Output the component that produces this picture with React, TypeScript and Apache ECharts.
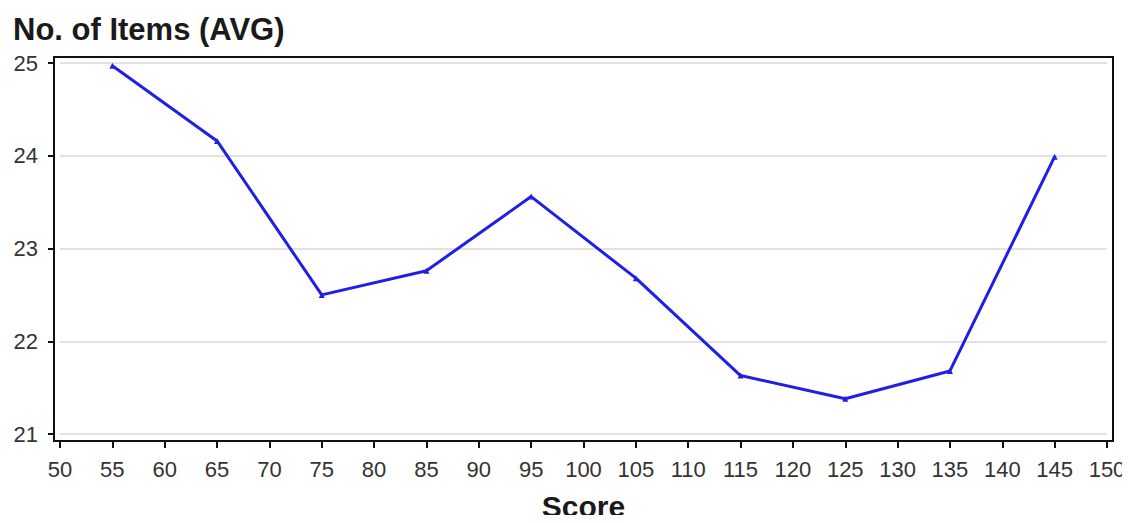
import React, { useEffect, useRef } from "react";
import * as echarts from "echarts";

const scores = [55, 65, 75, 85, 95, 105, 115, 125, 135, 145];
const avgItems = [24.97, 24.16, 22.5, 22.76, 23.56, 22.68, 21.63, 21.38, 21.68, 23.99];
const xTicks = [50, 150];
const yTicks = [21, 25];

export default function App() {
  const ref = useRef<HTMLDivElement>(null);
  useEffect(() => {
    if (!ref.current) return;
    const chart = echarts.init(ref.current, undefined, { renderer: "svg" });
    const font = "Liberation Sans, Arial, sans-serif";
    chart.setOption({
      animation: false,
      backgroundColor: "#ffffff",
      title: {
        text: "No. of Items (AVG)",
        left: 8,
        top: 9,
        textStyle: { fontFamily: font, fontWeight: "bold", fontSize: 31, color: "#1a1a1a" },
      },
      graphic: [
        {
          type: "rect",
          shape: { x: 54, y: 57, width: 1059, height: 384 },
          style: { fill: "none", stroke: "#111", lineWidth: 2 },
          z: 100,
        },
      ],
      grid: { left: 60, right: 23, top: 63, bottom: 89, containLabel: false, outerBoundsMode: "none" },
      xAxis: {
        type: "value",
        min: xTicks[0],
        max: xTicks[1],
        interval: 5,
        offset: 7,
        name: "Score",
        nameLocation: "middle",
        nameGap: 50,
        nameTextStyle: { fontFamily: font, fontWeight: "bold", fontSize: 30, color: "#1a1a1a" },
        axisLine: { show: false },
        axisTick: { show: true, length: 7, lineStyle: { color: "#111", width: 2 } },
        axisLabel: { fontFamily: font, fontSize: 22, color: "#333", margin: 17 },
        splitLine: { show: false },
      },
      yAxis: {
        type: "value",
        min: yTicks[0],
        max: yTicks[1],
        interval: 1,
        offset: 6,
        axisLine: { show: false },
        axisTick: { show: true, length: 6, lineStyle: { color: "#111", width: 2 } },
        axisLabel: { fontFamily: font, fontSize: 22, color: "#333", margin: 16 },
        splitLine: { show: true, lineStyle: { color: "#d9d9d9", width: 1.5 } },
      },
      series: [
        {
          type: "line",
          data: scores.map((s, i) => [s, avgItems[i]]),
          symbol: "triangle",
          symbolSize: 6,
          lineStyle: { color: "#1f1fe6", width: 3 },
          itemStyle: { color: "#1f1fe6" },
        },
      ],
    });
    return () => chart.dispose();
  }, []);
  return <div ref={ref} style={{ width: 1130, height: 523, margin: -8 }} />;
}
